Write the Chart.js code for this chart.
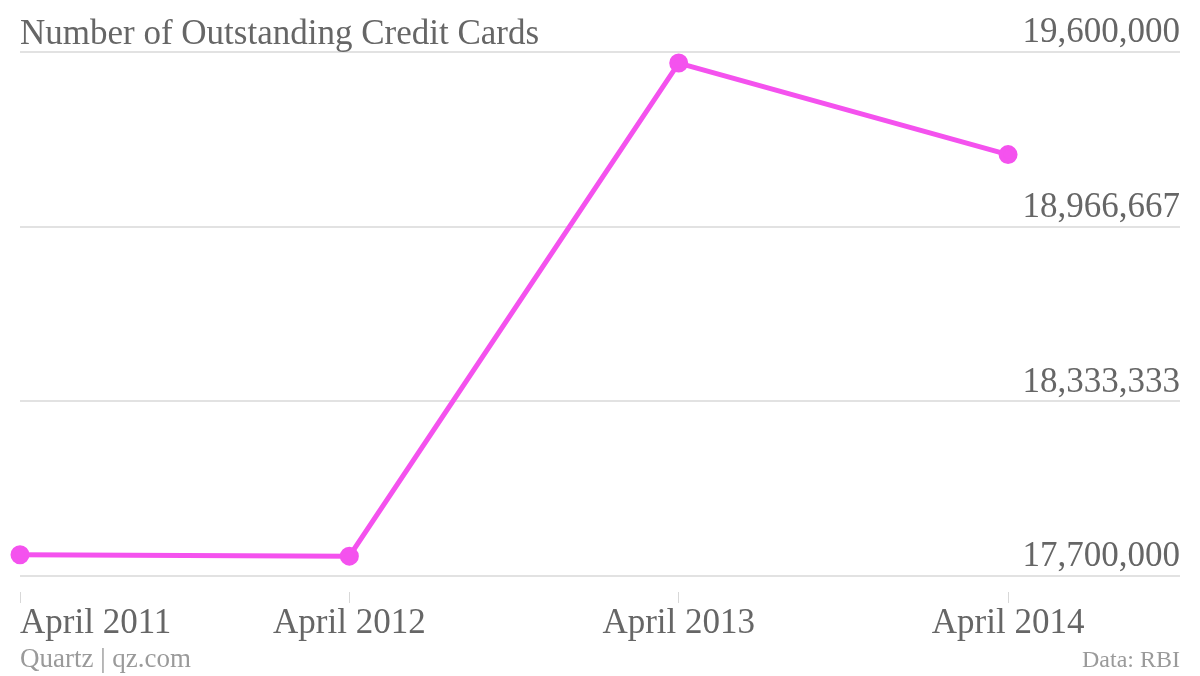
<!DOCTYPE html>
<html>
<head>
<meta charset="utf-8">
<script src="https://cdn.jsdelivr.net/npm/chart.js@4"></script>
<style>
  html, body { margin: 0; padding: 0; background: #fff; }
</style>
</head>
<body>
<canvas id="chart" width="1200" height="676"></canvas>
<script>
const categories = ['April 2011', 'April 2012', 'April 2013', 'April 2014'];
const cards = [17777000, 17772000, 19560000, 19228000];
const yTicks = [17700000, 18333333, 18966667, 19600000];

const chartTitle = 'Number of Outstanding Credit Cards';
const creditText = 'Quartz | qz.com';
const sourceText = 'Data: RBI';

const serif = '"Liberation Serif", serif';

// title, footer and x labels; labels sit on the scale's tick pixels,
// the first one is kept inside the chart area
const textLayer = {
    id: 'textLayer',
    afterDraw(chart) {
        const ctx = chart.ctx;
        const area = chart.chartArea;
        const xs = chart.scales.x;
        ctx.save();
        ctx.textBaseline = 'alphabetic';

        ctx.font = '35px ' + serif;
        ctx.fillStyle = '#666';
        ctx.textAlign = 'left';
        ctx.fillText(chartTitle, area.left, 44);

        categories.forEach((label, i) => {
            const cx = xs.getPixelForValue(i);
            const w = ctx.measureText(label).width;
            ctx.fillText(label, Math.max(area.left, cx - w / 2), 633);
        });

        ctx.fillStyle = '#9a9a9a';
        ctx.font = '27px ' + serif;
        ctx.fillText(creditText, area.left, 667);
        ctx.font = '24px ' + serif;
        ctx.textAlign = 'right';
        ctx.fillText(sourceText, area.right, 667);
        ctx.restore();
    }
};

new Chart(document.getElementById('chart'), {
    type: 'line',
    data: {
        datasets: [{
            data: cards.map((v, i) => ({ x: i, y: v })),
            borderColor: '#f452ee',
            backgroundColor: '#f452ee',
            borderWidth: 5,
            pointRadius: 7,
            pointHoverRadius: 7,
            tension: 0,
            clip: false
        }]
    },
    options: {
        responsive: false,
        animation: false,
        layout: { padding: { left: 20, right: 20, top: 52, bottom: 0 } },
        plugins: { legend: { display: false }, tooltip: { enabled: false } },
        scales: {
            x: {
                type: 'linear',
                min: 0,
                max: 3.522,
                afterBuildTicks: s => { s.ticks = categories.map((c, i) => ({ value: i })); },
                afterFit: s => { s.height = 84; },
                grid: { drawOnChartArea: false, drawTicks: true, tickLength: 11, color: '#d8d8d8', lineWidth: 1 },
                border: { display: false },
                ticks: { display: false }
            },
            y: {
                position: 'right',
                min: 17642000,
                max: 19600000,
                afterBuildTicks: s => { s.ticks = yTicks.map(v => ({ value: v })); },
                afterFit: s => { s.width = 0; },
                grid: { color: '#e2e2e2', lineWidth: 2, drawTicks: false },
                border: { display: false },
                ticks: {
                    mirror: true,
                    padding: 0,
                    labelOffset: -19,
                    color: '#666',
                    font: { family: serif, size: 35 },
                    callback: v => Math.round(v).toLocaleString('en-US')
                }
            }
        }
    },
    plugins: [textLayer]
});
</script>
</body>
</html>
